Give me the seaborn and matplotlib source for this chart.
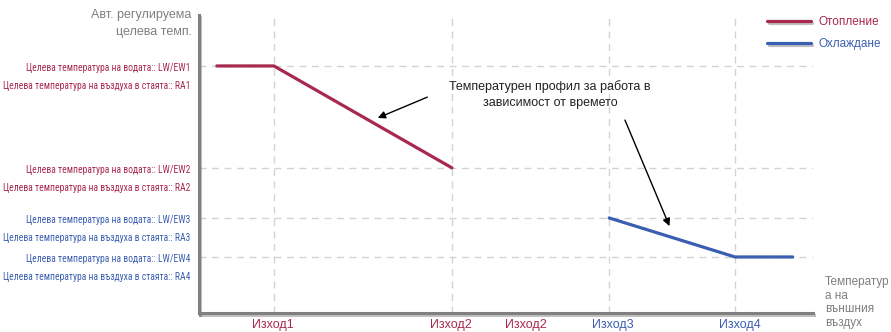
import matplotlib
matplotlib.use("Agg")
import matplotlib.pyplot as plt
import matplotlib.patheffects as pe
import matplotlib.transforms as mtransforms
from matplotlib import font_manager
import pandas as pd
import seaborn as sns

# outdoor temperature axis has no units, 0..10 ; target temperature axis 0..10
heat_x = [0.29, 1.22, 4.12]
heat_y = [8.29, 8.29, 4.87]
cool_x = [6.68, 8.73, 9.67]
cool_y = [3.19, 1.88, 1.88]
series_names = ["Отопление", "Охлаждане"]

ytick_pos = [8.29, 4.87, 3.19, 1.88]
ytick_water = ["Целева температура на водата:: LW/EW1", "Целева температура на водата:: LW/EW2",
               "Целева температура на водата:: LW/EW3", "Целева температура на водата:: LW/EW4"]
ytick_room = ["Целева температура на въздуха в стаята:: RA1", "Целева температура на въздуха в стаята:: RA2",
              "Целева температура на въздуха в стаята:: RA3", "Целева температура на въздуха в стаята:: RA4"]
xtick_pos = [1.21, 4.11, 5.33, 6.74, 8.81]
xtick_labels = ["Изход1", "Изход2", "Изход2", "Изход3", "Изход4"]
grid_x = [1.22, 4.12, 6.68, 8.73]

HEAT = "#a8294e"
COOL = "#3a5fb0"
GREY = "#7f7f7f"
xtick_colors = [HEAT, HEAT, HEAT, COOL, COOL]
ytick_colors = [HEAT, HEAT, COOL, COOL]


def pick_narrow_font():
    # look for some condensed face, else plain Liberation Sans
    prefs = ["Liberation Sans Narrow", "Roboto Condensed", "Open Sans Condensed",
             "Noto Sans", "DejaVu Sans", "Open Sans", "Roboto"]
    found = {}
    for f in font_manager.fontManager.ttflist:
        cond = (str(f.stretch) in ("condensed", "semi-condensed", "extra-condensed")
                or "Narrow" in f.name or "Condensed" in f.name)
        if cond and f.style == "normal" and f.weight in (400, "normal", "regular"):
            found.setdefault(f.name, f.fname)
    for name in prefs:
        if name in found:
            return font_manager.FontProperties(fname=found[name])
    return font_manager.FontProperties(family="Liberation Sans")


narrow = pick_narrow_font()

df = pd.DataFrame({
    "x": heat_x + cool_x,
    "y": heat_y + cool_y,
    "mode": [series_names[0]] * len(heat_x) + [series_names[1]] * len(cool_x),
})

sns.set_style("white")
plt.rcParams["font.family"] = ["Liberation Sans", "DejaVu Sans"]

fig = plt.figure(figsize=(8.91, 3.32), dpi=100)
ax = fig.add_axes([199 / 891, 1 - 313 / 332, (813 - 199) / 891, (313 - 15) / 332])

shadow = [pe.SimpleLineShadow(offset=(1, -1.5), alpha=0.25), pe.Normal()]

# gridlines
for gx in grid_x:
    ax.axvline(gx, color="#d3d3d3", lw=1, ls=(0, (5, 4)), zorder=0)
for gy in ytick_pos:
    ax.axhline(gy, color="#d3d3d3", lw=1, ls=(0, (5, 4)), zorder=0)

sns.lineplot(data=df, x="x", y="y", hue="mode", palette=[HEAT, COOL],
             linewidth=2.3, ax=ax, sort=False, estimator=None)
for line in ax.get_lines()[-2:]:
    line.set_path_effects(shadow)

ax.set_xlim(0, 10)
ax.set_ylim(0, 10)

for side in ["top", "right"]:
    ax.spines[side].set_visible(False)
for side in ["left", "bottom"]:
    ax.spines[side].set_color(GREY)
    ax.spines[side].set_linewidth(2.2)
    ax.spines[side].set_path_effects(shadow)

# x ticks
ax.set_xticks(xtick_pos)
ax.set_xticklabels(xtick_labels, fontsize=9)
for lab, c in zip(ax.get_xticklabels(), xtick_colors):
    lab.set_color(c)
ax.tick_params(axis="x", length=0, pad=4)
ax.set_yticks([])
ax.set_xlabel("")
ax.set_ylabel("")

# y level labels: two lines per level, first one on the level
base = ax.get_yaxis_transform()
line1_off = mtransforms.ScaledTranslation(0, -2.5 / 100, fig.dpi_scale_trans)
line2_off = mtransforms.ScaledTranslation(0, -20 / 100, fig.dpi_scale_trans)
ylab_texts = []
for y, l1, l2, c in zip(ytick_pos, ytick_water, ytick_room, ytick_colors):
    for txt, off in [(l1, line1_off), (l2, line2_off)]:
        t = ax.text(-0.014, y, txt, transform=base + off, ha="right", va="center",
                    fontproperties=narrow, fontsize=8.5, color=c)
        ylab_texts.append(t)
fig.canvas.draw()
r = fig.canvas.get_renderer()
w = max(t.get_window_extent(r).width for t in ylab_texts)
size = min(8.5, 8.5 * 188 / w)
for t in ylab_texts:
    t.set_fontsize(size)

# axis titles
ax.text(-0.012, 1.02, "Авт. регулируема\nцелева темп.", transform=ax.transAxes,
        ha="right", va="top", fontsize=9, color=GREY, linespacing=1.55)
ax.text(1.02, 0.125, "Температур\nа на\nвъншния\nвъздух", transform=ax.transAxes,
        ha="left", va="top", fontsize=8.5, color=GREY, linespacing=1.2)

# annotation
ax.text(5.72, 7.32, "Температурен профил за работа в\nзависимост от времето",
        ha="center", va="center", fontsize=9, color="#222222", linespacing=1.45)
ax.annotate("", xy=(2.87, 6.51), xytext=(3.76, 7.28),
            arrowprops=dict(arrowstyle="-|>", color="black", lw=1, mutation_scale=11))
ax.annotate("", xy=(7.68, 2.83), xytext=(6.92, 6.56),
            arrowprops=dict(arrowstyle="-|>", color="black", lw=1, mutation_scale=11))

# legend
sns.move_legend(ax, "upper right", bbox_to_anchor=(887 / 891, 1 - 10 / 332),
                bbox_transform=fig.transFigure, frameon=False, title=None,
                fontsize=8.5, handlelength=3.7, handletextpad=0.65, labelspacing=0.85,
                borderpad=0, labelcolor="linecolor")
for h in ax.get_legend().get_lines():
    h.set_linewidth(2.3)
    h.set_path_effects(shadow)

fig.savefig("out.png", dpi=100)
